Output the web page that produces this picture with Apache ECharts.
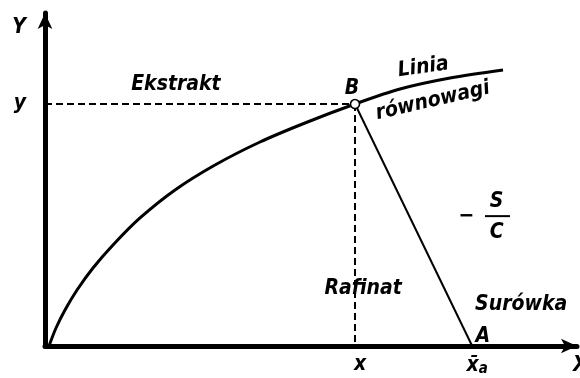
<!DOCTYPE html>
<html>
<head>
<meta charset="utf-8">
<script src="https://cdn.jsdelivr.net/npm/echarts@6/dist/echarts.min.js"></script>
<style>
  html, body { margin: 0; padding: 0; background: #fff; }
  #chart { width: 580px; height: 378px; }
</style>
</head>
<body>
<div id="chart"></div>
<script>
// Equilibrium curve (extract composition vs raffinate composition)
const curveX = [0.75, 2.07, 3.76, 6.02, 9.02, 12.78, 17.86, 24.44, 31.95, 40.41, 48.87, 58.27, 66.73, 76.13, 86.09];
const curveY = [0, 5.41, 10.81, 16.82, 23.42, 30.33, 38.44, 46.85, 54.35, 61.26, 66.97, 72.67, 77.18, 80.48, 82.88];

// Point B on the equilibrium curve and feed point A on the X axis
const pointB = [58.27, 72.67];
const pointA = [80.3, 0];

// Tick labels on both axes
const xTickValues = [58.27, 80.3];
const xTickLabels = ['{sh|x}', '{sh|x\u0304}{sub|a}'];
const yTickValues = [72.67];
const yTickLabels = ['y'];

// Text annotations in data coordinates
const noteText = ['Ekstrakt', 'Linia', 'równowagi', 'B', 'Rafinat', 'Surówka', 'A', '\u2212', 'S', 'C'];
const noteX    = [24.6, 71.1, 72.9, 57.7, 59.8, 89.5, 82.3, 79.2, 84.9, 84.9];
const noteY    = [78.4, 83.7, 73.6, 77.4, 17.4, 12.3, 2.9, 39.0, 43.4, 34.2];
const noteRot  = [0, 8, 13, 0, 0, 0, 0, 0, 0, 0];

// Fraction bar of −S/C
const fracBarX = [82.7, 87.4];
const fracBarY = 39.0;

const INK = '#000';
const FONT = '"DejaVu Sans Condensed", "DejaVu Sans", sans-serif';
const TEXT = { color: INK, fontFamily: FONT, fontStyle: 'italic', fontWeight: 'bold' };

const chart = echarts.init(document.getElementById('chart'), null, { renderer: 'canvas' });

const zip = (xs, ys) => xs.map((x, i) => [x, ys[i]]);

const notes = noteText.map((t, i) => ({
  value: [noteX[i], noteY[i]],
  label: { formatter: t, rotate: noteRot[i] }
}));

chart.setOption({
  animation: false,
  backgroundColor: '#fff',
  grid: { left: 45, right: 3, top: 13, bottom: 32, containLabel: false, outerBoundsMode: 'none' },
  xAxis: {
    type: 'value', min: 0, max: 100,
    name: 'X', nameLocation: 'end', nameGap: -4,
    nameTextStyle: Object.assign({ fontSize: 21, verticalAlign: 'top', padding: [9, 0, 0, 0] }, TEXT),
    axisLine: { show: true, onZero: false, symbol: ['none', 'arrow'], symbolSize: [11, 16], lineStyle: { color: INK, width: 5 } },
    axisTick: { show: false },
    splitLine: { show: false },
    axisLabel: Object.assign({
      customValues: xTickValues,
      formatter: v => xTickLabels[xTickValues.indexOf(v)] || '',
      fontSize: 21, margin: 8,
      rich: {
        sh: Object.assign({ fontSize: 21, padding: [0, 0, 0, 10] }, TEXT),
        sub: Object.assign({ fontSize: 15, padding: [8, 0, 0, 0] }, TEXT)
      }
    }, TEXT)
  },
  yAxis: {
    type: 'value', min: 0, max: 100,
    name: 'Y', nameLocation: 'end', nameGap: 0,
    nameTextStyle: Object.assign({ fontSize: 21, align: 'right', verticalAlign: 'top', padding: [4, 19, 0, 0] }, TEXT),
    axisLine: { show: true, onZero: false, symbol: ['none', 'arrow'], symbolSize: [11, 16], lineStyle: { color: INK, width: 5 } },
    axisTick: { show: false },
    splitLine: { show: false },
    axisLabel: Object.assign({
      customValues: yTickValues,
      formatter: v => yTickLabels[yTickValues.indexOf(v)] || '',
      fontSize: 21, margin: 19, padding: [4, 0, 0, 0]
    }, TEXT)
  },
  series: [
    {
      name: 'równowaga', type: 'line', data: zip(curveX, curveY),
      smooth: 0.3, showSymbol: false, symbol: 'none',
      lineStyle: { color: INK, width: 3 }, z: 3
    },
    {
      name: 'ekstrakt', type: 'line', data: [[0, pointB[1]], pointB],
      showSymbol: false, symbol: 'none',
      lineStyle: { color: INK, width: 2, type: [7, 4] }, z: 2
    },
    {
      name: 'rafinat', type: 'line', data: [pointB, [pointB[0], 0]],
      showSymbol: false, symbol: 'none',
      lineStyle: { color: INK, width: 2, type: [7, 4] }, z: 2
    },
    {
      name: 'bilans', type: 'line', data: [pointA, pointB],
      showSymbol: false, symbol: 'none',
      lineStyle: { color: INK, width: 2 }, z: 2
    },
    {
      name: 'ułamek', type: 'line', data: fracBarX.map(x => [x, fracBarY]),
      showSymbol: false, symbol: 'none',
      lineStyle: { color: INK, width: 2 }, z: 2
    },
    {
      name: 'B', type: 'scatter', data: [pointB],
      symbol: 'circle', symbolSize: 9,
      itemStyle: { color: '#fff', borderColor: INK, borderWidth: 1.6, opacity: 1 }, z: 5
    },
    {
      name: 'opisy', type: 'scatter', data: notes, symbolSize: 0,
      itemStyle: { opacity: 1 },
      label: Object.assign({ show: true, position: 'inside', fontSize: 21 }, TEXT),
      z: 6, silent: true
    }
  ]
});
</script>
</body>
</html>
